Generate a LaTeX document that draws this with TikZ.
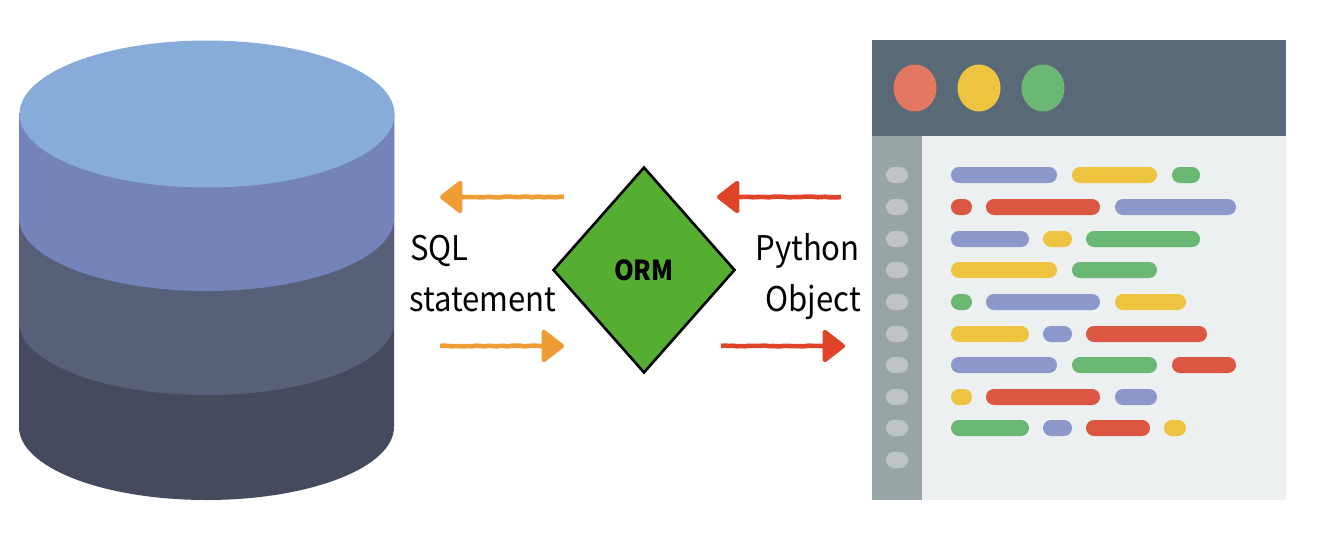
\documentclass[tikz,border=0pt]{standalone}
\usepackage{fontspec}
\setmainfont{Noto Sans CJK SC}
\usetikzlibrary{arrows.meta,shapes.geometric,decorations.pathmorphing}
\definecolor{cylA}{HTML}{88ACD9}
\definecolor{cylB}{HTML}{7483BA}
\definecolor{cylC}{HTML}{586079}
\definecolor{cylD}{HTML}{454A5E}
\definecolor{winHead}{HTML}{5A6978}
\definecolor{winSide}{HTML}{98A5A6}
\definecolor{winBody}{HTML}{ECF0F1}
\definecolor{winDot}{HTML}{BDC3C7}
\definecolor{barB}{HTML}{8C97CB}
\definecolor{barY}{HTML}{EDC33F}
\definecolor{barG}{HTML}{6BB774}
\definecolor{barR}{HTML}{DB5742}
\definecolor{lampR}{HTML}{E3775F}
\definecolor{ormG}{HTML}{55AE32}
\definecolor{arrO}{HTML}{F09C35}
\definecolor{arrR}{HTML}{E04428}
\tikzset{
  x=1pt,y=-1pt,
  lbl/.style={inner sep=0pt,anchor=base west,font=\fontsize{34}{34}\selectfont},
  lbr/.style={inner sep=0pt,anchor=base east,font=\fontsize{34}{34}\selectfont},
  ormbox/.style={diamond,draw=black,line width=2.6pt,fill=ormG,inner sep=0pt,
    minimum width=182pt,minimum height=206pt,aspect=0.8835,
    font=\bfseries\fontsize{27.5}{27.5}\selectfont},
  flow/.style={line width=4.6pt,
    arrows={-{Triangle[length=24pt,width=36pt,round]}},
    decorate,decoration={random steps,segment length=4pt,amplitude=.45pt,post length=24pt}},
  bar/.style={rounded corners=7.9pt}
}
\newcommand{\layer}[2]{%
  \fill[#1] (19,#2) -- (19,113) -- (394,113) -- (394,#2)
    arc[start angle=0,end angle=180,x radius=187.5pt,y radius=-73pt] -- cycle;}
\newcommand{\pill}[4]{\fill[#1,bar] (#2,#4-8) rectangle (#3,#4+8);}
\newcommand{\narrowtxt}[1]{\scalebox{.915}[1]{#1}}
\begin{document}
\begin{tikzpicture}
\useasboundingbox (0,0) rectangle (1319,533);
% cylinder
\layer{cylD}{427}
\layer{cylC}{322}
\layer{cylB}{218}
\fill[cylA] (207,114) ellipse[x radius=187.5pt,y radius=73.5pt];
% window
\fill[winBody] (872,136) rectangle (1286,500);
\fill[winHead] (872,40) rectangle (1286,136);
\fill[winSide] (872,136) rectangle (922,500);
\fill[lampR] (915,88) ellipse[x radius=21.5pt,y radius=23.5pt];
\fill[barY] (979,88) ellipse[x radius=21.5pt,y radius=23.5pt];
\fill[barG] (1043,88) ellipse[x radius=21.5pt,y radius=23.5pt];
\foreach \yy in {175,207,239,270,302,334,365,397,428,460}{\pill{winDot}{886}{908}{\yy}}
\pill{barB}{951}{1057}{175}\pill{barY}{1072}{1157}{175}\pill{barG}{1172}{1200}{175}
\pill{barR}{951}{972}{207}\pill{barR}{986}{1100}{207}\pill{barB}{1115}{1236}{207}
\pill{barB}{951}{1029}{239}\pill{barY}{1043}{1072}{239}\pill{barG}{1086}{1200}{239}
\pill{barY}{951}{1057}{270}\pill{barG}{1072}{1157}{270}
\pill{barG}{951}{972}{302}\pill{barB}{986}{1100}{302}\pill{barY}{1115}{1186}{302}
\pill{barY}{951}{1029}{334}\pill{barB}{1043}{1072}{334}\pill{barR}{1086}{1207}{334}
\pill{barB}{951}{1057}{365}\pill{barG}{1072}{1157}{365}\pill{barR}{1172}{1236}{365}
\pill{barY}{951}{972}{397}\pill{barR}{986}{1100}{397}\pill{barB}{1115}{1157}{397}
\pill{barG}{951}{1029}{428}\pill{barB}{1043}{1072}{428}\pill{barR}{1086}{1150}{428}\pill{barY}{1164}{1186}{428}
% ORM
\node[ormbox] (orm) at (644,270) {\raisebox{-2pt}{\narrowtxt{ORM}}};
% labels
\node[lbl] (sql) at (410,260) {\narrowtxt{SQL}};
\node[lbl] (stmt) at (409,311) {\narrowtxt{statement}};
\node[lbr] (py) at (860,260) {\narrowtxt{Python}};
\node[lbr] (obj) at (861,311) {\narrowtxt{Object}};
% arrows
\coordinate (oa) at (564,197); \coordinate (ob) at (440,197);
\coordinate (oc) at (440,346); \coordinate (od) at (564,346);
\coordinate (ra) at (841,197); \coordinate (rb) at (717,197);
\coordinate (rc) at (721,346); \coordinate (rd) at (845,346);
\draw[flow,arrO] (oa) -- (ob);
\draw[flow,arrO] (oc) -- (od);
\draw[flow,arrR] (ra) -- (rb);
\draw[flow,arrR] (rc) -- (rd);
\end{tikzpicture}
\end{document}
